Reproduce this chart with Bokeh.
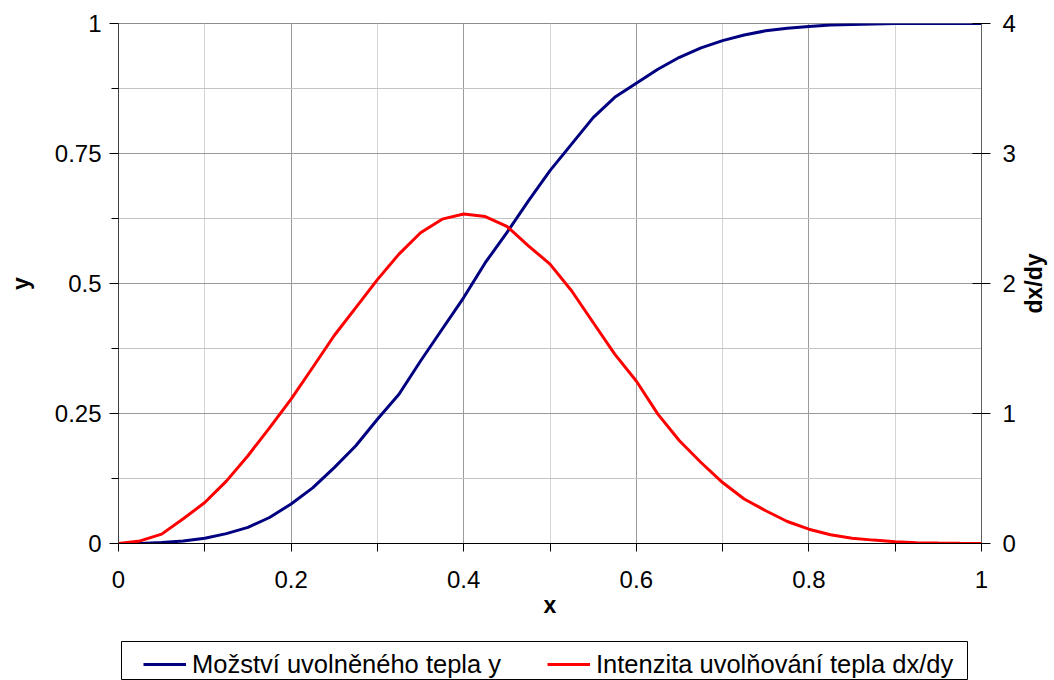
from bokeh.plotting import figure
from bokeh.layouts import column, row
from bokeh.models import (Range1d, LinearAxis, FixedTicker, CustomJSTickFormatter,
                          Legend, LegendItem, Grid, Title)
from bokeh.embed import file_html
from bokeh.resources import INLINE

# ---- data ----
x_vals = [0.0, 0.025, 0.05, 0.075, 0.1, 0.125, 0.15, 0.175, 0.2, 0.225,
          0.25, 0.275, 0.3, 0.325, 0.35, 0.375, 0.4, 0.425, 0.45, 0.475,
          0.5, 0.525, 0.55, 0.575, 0.6, 0.625, 0.65, 0.675, 0.7, 0.725,
          0.75, 0.775, 0.8, 0.825, 0.85, 0.875, 0.9, 0.925, 0.95, 0.975, 1.0]
heat_released = [0.0, 0.0, 0.002, 0.005, 0.010, 0.019, 0.031, 0.050, 0.076, 0.107,
                 0.146, 0.188, 0.239, 0.287, 0.351, 0.412, 0.473, 0.540, 0.598, 0.659,
                 0.717, 0.768, 0.819, 0.858, 0.885, 0.912, 0.935, 0.953, 0.967, 0.978,
                 0.986, 0.991, 0.994, 0.997, 0.998, 0.999, 1.0, 1.0, 1.0, 1.0, 1.0]
release_rate = [0.0, 0.02, 0.072, 0.19, 0.315, 0.48, 0.675, 0.89, 1.11, 1.354,
                1.60, 1.815, 2.03, 2.226, 2.39, 2.495, 2.534, 2.515, 2.44, 2.29,
                2.149, 1.944, 1.70, 1.457, 1.25, 0.995, 0.79, 0.623, 0.469, 0.342,
                0.252, 0.169, 0.11, 0.067, 0.041, 0.026, 0.013, 0.006, 0.003, 0.001, 0.0]

x_ticks = [0, 0.2, 0.4, 0.6, 0.8, 1]
x_minor_ticks = [0.1, 0.3, 0.5, 0.7, 0.9]
y_ticks = [0, 0.25, 0.5, 0.75, 1]
y_minor_ticks = [0.125, 0.375, 0.625, 0.875]
y2_ticks = [0, 1, 2, 3, 4]
x_label = "x"
y_label = "y"
y2_label = "dx/dy"
series_names = ["Možství uvolněného tepla y", "Intenzita uvolňování tepla dx/dy"]

FONT = "Liberation Sans"
NAVY = "#000080"
RED = "#ff0000"
W_MAIN = 1018
W_SIDE = 34
H_MAIN = 641
fmt_code = "return (Math.round(tick*1000)/1000).toString();"

p = figure(width=W_MAIN, height=H_MAIN, output_backend="svg", toolbar_location=None,
           x_range=Range1d(0, 1), y_range=Range1d(0, 1),
           x_axis_type=None, y_axis_type=None,
           min_border_left=118, min_border_right=36, min_border_top=23,
           min_border_bottom=98)
p.extra_y_ranges = {"rate": Range1d(0, 4)}
p.background_fill_color = "white"
p.border_fill_color = "white"
p.outline_line_color = "#8c8c8c"
p.outline_line_width = 1

# grids
p.add_layout(Grid(dimension=0, ticker=FixedTicker(ticks=x_minor_ticks),
                  grid_line_color="#d4d4d4", grid_line_width=1))
p.add_layout(Grid(dimension=0, ticker=FixedTicker(ticks=[t for t in x_ticks if 0 < t < 1]),
                  grid_line_color="#9a9a9a", grid_line_width=1))
p.add_layout(Grid(dimension=1, ticker=FixedTicker(ticks=y_minor_ticks),
                  grid_line_color="#c4c4c4", grid_line_width=1))
p.add_layout(Grid(dimension=1, ticker=FixedTicker(ticks=[t for t in y_ticks if 0 < t < 1]),
                  grid_line_color="#9a9a9a", grid_line_width=1))

def style_axis(ax):
    ax.major_label_text_font = FONT
    ax.major_label_text_font_size = "24px"
    ax.major_label_text_color = "black"
    ax.axis_label_text_font = FONT
    ax.axis_label_text_font_size = "23px"
    ax.axis_label_text_font_style = "bold"
    ax.axis_label_text_color = "black"
    ax.major_tick_line_color = "black"
    ax.minor_tick_line_color = "black"

# axes
xaxis = LinearAxis(ticker=FixedTicker(ticks=x_ticks, minor_ticks=x_minor_ticks),
                   formatter=CustomJSTickFormatter(code=fmt_code),
                   axis_label=x_label)
style_axis(xaxis)
xaxis.axis_line_color = "black"
xaxis.major_tick_in = 0
xaxis.major_tick_out = 8
xaxis.minor_tick_in = 0
xaxis.minor_tick_out = 8
xaxis.major_label_standoff = 19
xaxis.axis_label_standoff = 1
p.add_layout(xaxis, "below")

yaxis = LinearAxis(ticker=FixedTicker(ticks=y_ticks, minor_ticks=y_minor_ticks),
                   formatter=CustomJSTickFormatter(code=fmt_code),
                   axis_label=y_label)
style_axis(yaxis)
yaxis.axis_line_color = "#404040"
yaxis.major_tick_in = 0
yaxis.major_tick_out = 9
yaxis.minor_tick_in = 0
yaxis.minor_tick_out = 7
yaxis.major_label_standoff = 8
yaxis.axis_label_standoff = 18
p.add_layout(yaxis, "left")

y2axis = LinearAxis(y_range_name="rate", ticker=FixedTicker(ticks=y2_ticks, minor_ticks=[]),
                    formatter=CustomJSTickFormatter(code=fmt_code))
style_axis(y2axis)
y2axis.axis_line_color = "#606060"
y2axis.major_tick_in = 9
y2axis.major_tick_out = 9
y2axis.minor_tick_in = 0
y2axis.minor_tick_out = 0
y2axis.major_label_standoff = 12
p.add_layout(y2axis, "right")

# lines
p.line(x_vals, heat_released, line_color=NAVY, line_width=3)
p.line(x_vals, release_rate, line_color=RED, line_width=3, y_range_name="rate")

# right-hand title strip holding the secondary axis name (reads bottom-to-top)
p3 = figure(width=W_SIDE, height=H_MAIN, output_backend="svg", toolbar_location=None,
            x_axis_type=None, y_axis_type=None,
            min_border_left=26, min_border_right=0, min_border_top=23,
            min_border_bottom=98)
p3.outline_line_color = None
p3.background_fill_color = "white"
p3.border_fill_color = "white"
p3.add_layout(Title(text=y2_label, align="center", text_font=FONT,
                    text_font_size="23px", text_font_style="bold",
                    text_color="black", standoff=0, offset=0), "left")

# legend strip (box of the legend, cut off by the window bottom like the reference)
W = W_MAIN + W_SIDE
p2 = figure(width=W, height=39, output_backend="svg", toolbar_location=None,
            x_range=Range1d(0, 1), y_range=Range1d(5, 6),
            x_axis_type=None, y_axis_type=None,
            min_border_left=121, min_border_right=W - 967, min_border_top=0,
            min_border_bottom=0)
p2.background_fill_color = "white"
p2.border_fill_color = "white"
p2.outline_line_color = "black"
p2.outline_line_width = 1
k1 = p2.line(x_vals, heat_released, line_color=NAVY, line_width=3)
k2 = p2.line(x_vals, release_rate, line_color=RED, line_width=3)
legend = Legend(items=[LegendItem(label=series_names[0], renderers=[k1]),
                       LegendItem(label=series_names[1], renderers=[k2])],
                orientation="horizontal", location=(0, -20.5),
                padding=22, spacing=46, margin=0,
                glyph_width=43, glyph_height=20, label_standoff=6,
                label_text_font=FONT, label_text_font_size="25.5px",
                label_text_color="black",
                border_line_alpha=0, background_fill_alpha=0)
p2.add_layout(legend)

layout = column(row(p, p3, spacing=0), p2, spacing=0)
open("out.html", "w").write(file_html(layout, INLINE))
